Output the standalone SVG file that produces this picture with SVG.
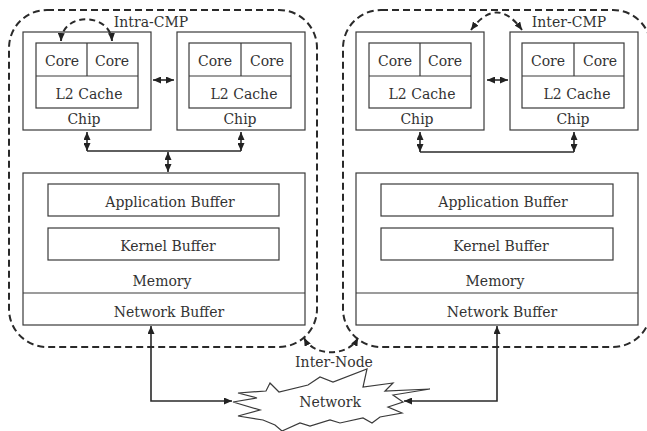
<svg xmlns="http://www.w3.org/2000/svg" width="647" height="431" viewBox="0 0 647 431">
  <style>
    .box { fill: none; stroke: #3a3a3a; stroke-width: 1.2; }
    .bound { fill: none; stroke: #2a2a2a; stroke-width: 2; stroke-dasharray: 7 4; }
    .arc { fill: none; stroke: #2a2a2a; stroke-width: 2; stroke-dasharray: 6 4; }
    .link { fill: none; stroke: #2a2a2a; stroke-width: 1.6; }
    text { font-family: "DejaVu Serif", "Liberation Serif", serif; font-size: 14px; fill: #333; text-anchor: middle; }
  </style>
  <defs>
    <marker id="arrow" viewBox="0 0 8 7" refX="8" refY="3.5" markerWidth="8" markerHeight="7" markerUnits="userSpaceOnUse" orient="auto-start-reverse">
      <path d="M0,0 L8,3.5 L0,7 z" fill="#222" stroke="none"/>
    </marker>
  </defs>

  <!-- left compute node -->
  <g id="node-left">
    <rect class="bound" x="9" y="10" width="308" height="337" rx="38"/>
    <g id="chip-l1">
      <rect class="box" x="23" y="32" width="128" height="98"/>
      <rect class="box" x="36" y="43" width="102" height="65"/>
      <line class="box" x1="87" y1="43" x2="87" y2="76"/>
      <line class="box" x1="36" y1="76" x2="138" y2="76"/>
      <text x="62" y="66">Core</text>
      <text x="112" y="66">Core</text>
      <text x="89" y="99">L2 Cache</text>
      <text x="84" y="124">Chip</text>
    </g>
    <g id="chip-l2">
      <rect class="box" x="177" y="32" width="128" height="98"/>
      <rect class="box" x="189" y="43" width="102" height="65"/>
      <line class="box" x1="241" y1="43" x2="241" y2="76"/>
      <line class="box" x1="189" y1="76" x2="291" y2="76"/>
      <text x="215" y="66">Core</text>
      <text x="267" y="66">Core</text>
      <text x="244" y="99">L2 Cache</text>
      <text x="240" y="124">Chip</text>
    </g>
    <g id="memory-l">
      <rect class="box" x="23" y="173" width="282" height="152"/>
      <line class="box" x1="23" y1="293" x2="305" y2="293"/>
      <rect class="box" x="48" y="184" width="231" height="32"/>
      <rect class="box" x="48" y="228" width="231" height="32"/>
      <text x="170" y="207">Application Buffer</text>
      <text x="168" y="251">Kernel Buffer</text>
      <text x="162" y="286">Memory</text>
      <text x="169" y="317">Network Buffer</text>
    </g>
    <text x="151" y="27">Intra-CMP</text>
  </g>

  <!-- right compute node -->
  <g id="node-right">
    <rect class="bound" x="343" y="10" width="308" height="337" rx="38"/>
    <g id="chip-r1">
      <rect class="box" x="356" y="32" width="128" height="98"/>
      <rect class="box" x="369" y="43" width="102" height="65"/>
      <line class="box" x1="420" y1="43" x2="420" y2="76"/>
      <line class="box" x1="369" y1="76" x2="471" y2="76"/>
      <text x="395" y="66">Core</text>
      <text x="445" y="66">Core</text>
      <text x="422" y="99">L2 Cache</text>
      <text x="417" y="124">Chip</text>
    </g>
    <g id="chip-r2">
      <rect class="box" x="510" y="32" width="128" height="98"/>
      <rect class="box" x="522" y="43" width="102" height="65"/>
      <line class="box" x1="574" y1="43" x2="574" y2="76"/>
      <line class="box" x1="522" y1="76" x2="624" y2="76"/>
      <text x="548" y="66">Core</text>
      <text x="600" y="66">Core</text>
      <text x="577" y="99">L2 Cache</text>
      <text x="573" y="124">Chip</text>
    </g>
    <g id="memory-r">
      <rect class="box" x="356" y="173" width="282" height="152"/>
      <line class="box" x1="356" y1="293" x2="638" y2="293"/>
      <rect class="box" x="381" y="184" width="232" height="32"/>
      <rect class="box" x="381" y="228" width="232" height="32"/>
      <text x="503" y="207">Application Buffer</text>
      <text x="501" y="251">Kernel Buffer</text>
      <text x="495" y="286">Memory</text>
      <text x="502" y="317">Network Buffer</text>
    </g>
    <text x="569" y="27">Inter-CMP</text>
  </g>

  <!-- shared network cloud -->
  <g id="network">
    <polygon class="box" fill="#fff" points="270,383 279,392 308,385 320,377 333,382 367,369 363,387 393,383 385,391 430,389 393,395 403,402 388,407 402,413 380,417 372,423 363,418 340,423 330,420 310,426 300,423 282,431 275,425 263,420 238,416 260,410 233,402 257,398 238,393 266,391"/>
    <text x="330" y="407">Network</text>
  </g>
  <text x="334" y="367">Inter-Node</text>

  <!-- connectors -->
  <g id="connectors">
    <!-- chip to chip -->
    <line class="link" x1="153" y1="80" x2="174" y2="80" marker-start="url(#arrow)" marker-end="url(#arrow)"/>
    <line class="link" x1="487" y1="80" x2="508" y2="80" marker-start="url(#arrow)" marker-end="url(#arrow)"/>
    <!-- left chip bus -->
    <line class="link" x1="87" y1="132" x2="87" y2="151" marker-start="url(#arrow)" marker-end="url(#arrow)"/>
    <line class="link" x1="241" y1="132" x2="241" y2="151" marker-start="url(#arrow)" marker-end="url(#arrow)"/>
    <line class="link" x1="87" y1="151" x2="241" y2="151"/>
    <line class="link" x1="168" y1="152" x2="168" y2="172" marker-start="url(#arrow)" marker-end="url(#arrow)"/>
    <!-- right chip bus -->
    <line class="link" x1="420" y1="132" x2="420" y2="152" marker-start="url(#arrow)" marker-end="url(#arrow)"/>
    <line class="link" x1="574" y1="132" x2="574" y2="152" marker-start="url(#arrow)" marker-end="url(#arrow)"/>
    <line class="link" x1="420" y1="152" x2="574" y2="152"/>
    <!-- network links -->
    <path class="link" d="M151,326 L151,401 L232,401" marker-start="url(#arrow)" marker-end="url(#arrow)"/>
    <path class="link" d="M497,326 L497,401 L404,401" marker-start="url(#arrow)" marker-end="url(#arrow)"/>
    <!-- communication arcs -->
    <path class="arc" d="M61,41 C62,12 110,12 112,41" marker-start="url(#arrow)" marker-end="url(#arrow)"/>
    <path class="arc" d="M471,30 Q497,-5 522,30" marker-start="url(#arrow)" marker-end="url(#arrow)"/>
    <path class="arc" d="M304,338 C314,357 348,357 358,338" marker-start="url(#arrow)" marker-end="url(#arrow)"/>
  </g>
</svg>
